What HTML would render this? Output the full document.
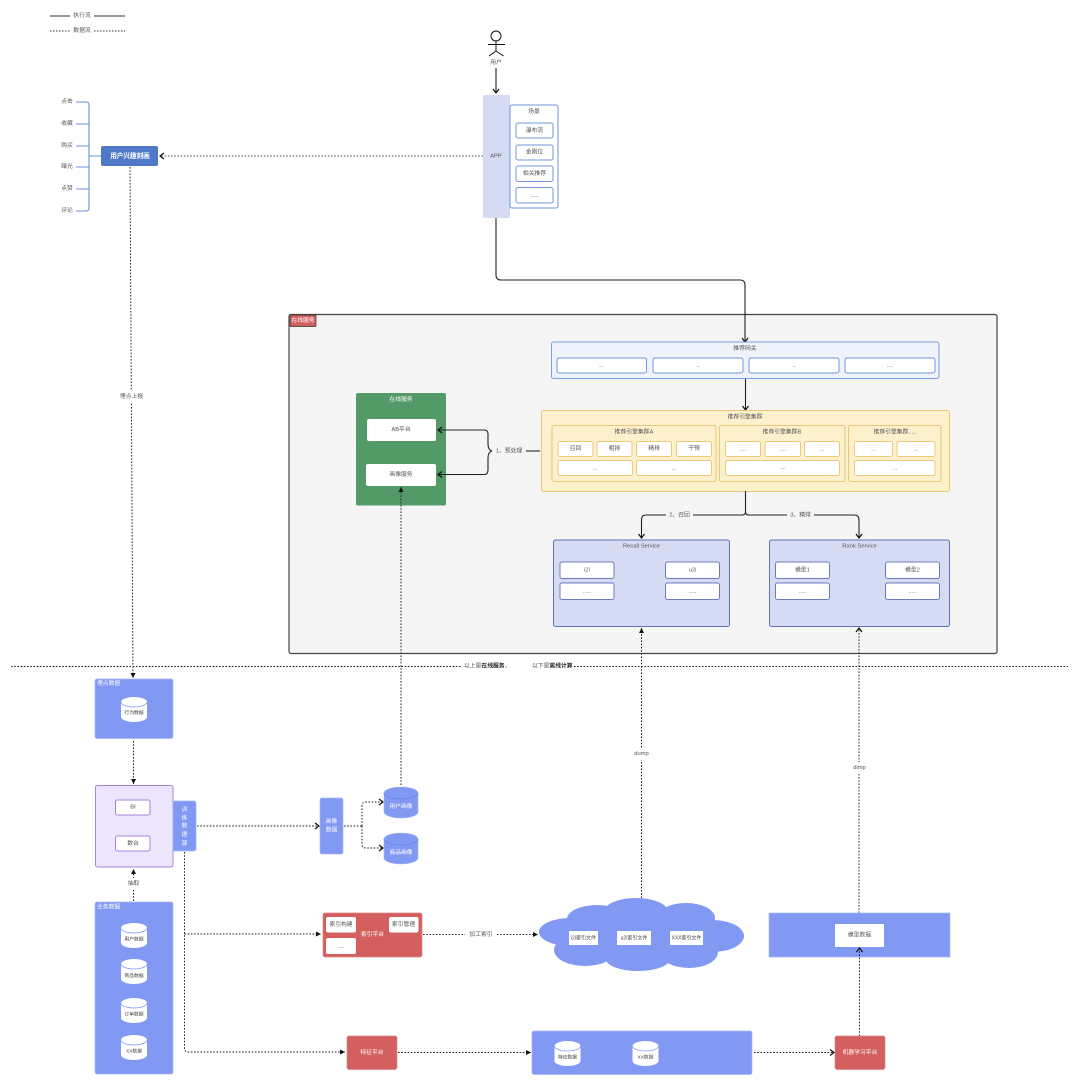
<!DOCTYPE html>
<html lang="zh"><head><meta charset="utf-8"><title>推荐系统架构</title>
<style>
html,body{margin:0;padding:0;background:#fff;width:1080px;height:1085px;overflow:hidden}
svg{display:block}
text{font-family:"Liberation Sans","Noto Sans CJK SC",sans-serif;font-size:5.8px;text-anchor:middle;dominant-baseline:central;fill:#555}
.w{fill:#fff}.s{font-size:4.8px;fill:#444}.c{font-size:5px;fill:#444}.l{text-anchor:start}
.f{fill:none;stroke:#222;stroke-width:1.1}
.d{fill:none;stroke:#222;stroke-width:1;stroke-dasharray:1.6 1.6}
.a{marker-end:url(#open)}.b{marker-end:url(#fill)}
.ib{fill:#fff;stroke:#7295dd;stroke-width:1}
.yb{fill:#fff;stroke:#ecc977;stroke-width:1}
.pb{fill:#fff;stroke:#6a7cc0;stroke-width:1}
.vb{fill:#fff;stroke:#a583db;stroke-width:1}
.blue{fill:#8199f3;stroke:#a6b7f7;stroke-width:.7}
.red{fill:#d45f5f;stroke:#e08585;stroke-width:.7}
.m{fill:none;stroke:#6a8fd8;stroke-width:1.1}
</style></head><body>
<svg xmlns="http://www.w3.org/2000/svg" width="1080" height="1085" viewBox="0 0 1080 1085">
<defs>
<marker id="open" markerUnits="userSpaceOnUse" markerWidth="8" markerHeight="8" refX="6" refY="4" orient="auto"><path d="M2,1 L6,4 L2,7" fill="none" stroke="#111" stroke-width="1.2"/></marker>
<marker id="fill" markerUnits="userSpaceOnUse" markerWidth="8" markerHeight="8" refX="6" refY="4" orient="auto"><path d="M1,1.500 L6,4 L1,6.500 Z" fill="#111"/></marker>
<g id="cy"><path d="M0,5 A13,5 0 0 1 26,5 V20 A13,5 0 0 1 0,20 Z" fill="#fff"/><path d="M0,5 A13,5 0 0 0 26,5" fill="none" stroke="#8199f3" stroke-width=".8"/></g>
<g id="cb"><path d="M0,6 A17,6 0 0 1 34,6 V25 A17,6 0 0 1 0,25 Z" fill="#8199f3" stroke="#a6b7f7" stroke-width=".6"/><path d="M0,6 A17,6 0 0 0 34,6" fill="none" stroke="#6c85e6" stroke-width=".8"/></g>
</defs>

<!-- legend -->
<path d="M50,16H70M94,16H125" stroke="#333" stroke-width="1"/>
<path d="M50,31H70M94,31H125" stroke="#333" stroke-width="1" stroke-dasharray="1.5 1.5"/>
<text x="82" y="16">执行流</text><text x="82" y="31">数据流</text>

<!-- mind map -->
<text x="67" y="102">点击</text><text x="67" y="124">收藏</text><text x="67" y="146">购买</text><text x="67" y="167">曝光</text><text x="67" y="189">点赞</text><text x="67" y="211">评论</text>
<path class="m" d="M76,102H86Q89,102 89,105V208Q89,211 86,211H76M76,124H89M76,146H89M76,167H89M76,189H89M89,156H101"/>
<rect x="101" y="146" width="57" height="20" rx="2" fill="#4f78c8"/>
<text x="130" y="156.500" class="w" style="font-size:6.6px;font-weight:bold">用户兴趣刻画</text>
<path class="d a" d="M483,156H160" style="stroke:#555"/>
<path class="d b" d="M130,167L133,678"/>
<rect x="118" y="391" width="27" height="12" fill="#fff"/>
<text x="131.500" y="397">埋点上报</text>

<!-- actor -->
<circle cx="496" cy="36" r="5" fill="none" stroke="#111" stroke-width="1"/>
<path d="M496,41V51M488,44.500H505M496,51L489,56M496,51L503.500,56" fill="none" stroke="#111" stroke-width="1"/>
<text x="496" y="63">用户</text>
<path class="f a" d="M496,68V93"/>

<!-- APP -->
<rect x="483" y="95" width="27" height="123" rx="2" fill="#d5dbf3"/>
<text x="496" y="156.500">APP</text>
<rect x="510" y="105" width="48" height="103" rx="2" fill="#fff" stroke="#6f93db" stroke-width="1"/>
<text x="534" y="112">场景</text>
<rect class="ib" x="516" y="123" width="37" height="15" rx="2"/><text x="534.500" y="131">瀑布流</text>
<rect class="ib" x="516" y="145" width="37" height="15" rx="2"/><text x="534.500" y="152.500">金刚位</text>
<rect class="ib" x="516" y="166" width="37" height="15.500" rx="2"/><text x="534.500" y="174">相关推荐</text>
<rect class="ib" x="516" y="187.500" width="37" height="15.500" rx="2"/><text x="534.500" y="196">.....</text>

<!-- online panel -->
<rect x="289" y="314.500" width="708" height="339" rx="2" fill="#f5f5f5" stroke="#444" stroke-width="1.2"/>
<rect x="290" y="315" width="26" height="11.500" rx="1" fill="#d45f5f" stroke="#333" stroke-width=".7"/>
<text x="303" y="321" class="w">在线服务</text>
<path class="f a" d="M496,218V275Q496,280 501,280H740Q745,280 745,285V342"/>

<!-- gateway -->
<rect x="551.500" y="342" width="387.500" height="36.500" rx="2" fill="#eef3fc" stroke="#7a9ce0" stroke-width="1"/>
<text x="745" y="349">推荐网关</text>
<rect class="ib" x="557" y="358" width="89.500" height="15" rx="2"/><text x="601.500" y="366">...</text>
<rect class="ib" x="653" y="358" width="90" height="15" rx="2"/><text x="698" y="366">..</text>
<rect class="ib" x="749" y="358" width="90" height="15" rx="2"/><text x="794" y="366">..</text>
<rect class="ib" x="845" y="358" width="90" height="15" rx="2"/><text x="890" y="366">....</text>
<path class="f a" d="M745.500,379V410"/>

<!-- engine -->
<rect x="541.500" y="410.500" width="408" height="81" rx="2" fill="#fdf0cd" stroke="#e8c876" stroke-width="1"/>
<text x="745" y="417.500">推荐引擎集群</text>
<rect x="552" y="425.500" width="164" height="56" rx="2" fill="#fdf0cd" stroke="#e8c876" stroke-width="1"/>
<rect x="719.500" y="425.500" width="125.500" height="56" rx="2" fill="#fdf0cd" stroke="#e8c876" stroke-width="1"/>
<rect x="848.500" y="425.500" width="92.500" height="56" rx="2" fill="#fdf0cd" stroke="#e8c876" stroke-width="1"/>
<text x="634" y="432.500">推荐引擎集群A</text><text x="782" y="432.500">推荐引擎集群B</text><text x="895" y="432.500">推荐引擎集群.....</text>
<rect class="yb" x="558" y="441.500" width="35" height="15" rx="2"/><text x="575.500" y="449">召回</text>
<rect class="yb" x="597" y="441.500" width="35" height="15" rx="2"/><text x="614.500" y="449">粗排</text>
<rect class="yb" x="636.500" y="441.500" width="35" height="15" rx="2"/><text x="654" y="449">精排</text>
<rect class="yb" x="676.500" y="441.500" width="35" height="15" rx="2"/><text x="694" y="449">干预</text>
<rect class="yb" x="558" y="460.500" width="74.500" height="15" rx="2"/><text x="595" y="468.500">...</text>
<rect class="yb" x="636.500" y="460.500" width="75" height="15" rx="2"/><text x="674" y="468.500">...</text>
<rect class="yb" x="725.500" y="441.500" width="35" height="15" rx="2"/><text x="743" y="449.500">....</text>
<rect class="yb" x="765" y="441.500" width="35.500" height="15" rx="2"/><text x="783" y="449.500">....</text>
<rect class="yb" x="804.500" y="441.500" width="35" height="15" rx="2"/><text x="822" y="449.500">...</text>
<rect class="yb" x="725.500" y="460.500" width="114" height="15" rx="2"/><text x="782.500" y="468">....</text>
<rect class="yb" x="854.500" y="441.500" width="38" height="15" rx="2"/><text x="873.500" y="449.500">...</text>
<rect class="yb" x="897" y="441.500" width="38" height="15" rx="2"/><text x="916" y="449.500">...</text>
<rect class="yb" x="854.500" y="460.500" width="80.500" height="15" rx="2"/><text x="895" y="468.500">...</text>

<!-- green -->
<rect x="356" y="393" width="90" height="112.500" rx="2" fill="#539a68"/>
<text x="401" y="400" class="w">在线服务</text>
<rect x="367" y="419" width="69" height="22" rx="2" fill="#fff"/><text x="401" y="430">AB平台</text>
<rect x="366" y="464" width="70" height="22" rx="2" fill="#fff"/><text x="401" y="475">画像服务</text>
<path class="f a" d="M488,444V434Q488,430 484,430H438"/>
<path class="f a" d="M488,458V470Q488,474.500 484,474.500H438"/>
<path class="f" d="M488,444Q488,450 492,451Q488,452 488,458"/>
<text x="509" y="451.500">1、预处理</text>
<path class="f" d="M526,451H540"/>
<path class="d b" d="M401,785V487"/>

<!-- branching -->
<path class="f" d="M745.500,491V512Q745.500,515 742,515H646Q641.500,515 641.500,520V538" marker-end="url(#open)"/>
<path class="f" d="M745.500,512Q745.500,515 749,515H854Q859,515 859,520V538" marker-end="url(#open)"/>
<rect x="666" y="510" width="27" height="10" fill="#f5f5f5"/><rect x="787" y="510" width="27" height="10" fill="#f5f5f5"/>
<text x="679.500" y="515.500">2、召回</text><text x="800.500" y="515.500">3、精排</text>

<!-- services -->
<rect x="553.500" y="540" width="176" height="86.500" rx="2" fill="#d5dbf3" stroke="#6272b8" stroke-width="1"/>
<text x="641.500" y="546.500">Recall Service</text>
<rect class="pb" x="560" y="562" width="54" height="16.500" rx="2"/><text x="587" y="570.500">i2i</text>
<rect class="pb" x="560" y="583" width="54" height="16.500" rx="2"/><text x="587" y="592">.....</text>
<rect class="pb" x="665.500" y="562" width="54" height="16.500" rx="2"/><text x="692.500" y="570.500">u2i</text>
<rect class="pb" x="665.500" y="583" width="54" height="16.500" rx="2"/><text x="692.500" y="592">.....</text>
<rect x="769.500" y="540" width="180" height="86.500" rx="2" fill="#d5dbf3" stroke="#6272b8" stroke-width="1"/>
<text x="859.500" y="546.500">Rank Service</text>
<rect class="pb" x="775.500" y="562" width="54" height="16.500" rx="2"/><text x="802.500" y="570.500">模型1</text>
<rect class="pb" x="775.500" y="583" width="54" height="16.500" rx="2"/><text x="802.500" y="592">.....</text>
<rect class="pb" x="885.500" y="562" width="54" height="16.500" rx="2"/><text x="912.500" y="570.500">模型2</text>
<rect class="pb" x="885.500" y="583" width="54" height="16.500" rx="2"/><text x="912.500" y="592">.....</text>

<!-- divider -->
<path d="M11,666.500H461M574,666.500H1068" stroke="#222" stroke-width="1" stroke-dasharray="1.6 1.6" fill="none"/>
<text x="464" y="666.500" class="l">以上是<tspan style="font-weight:bold;fill:#222">在线服务</tspan>，</text>
<text x="532" y="666.500" class="l">以下是<tspan style="font-weight:bold;fill:#222">离线计算</tspan></text>

<!-- long dumps -->
<path class="d b" d="M641.500,898V628"/>
<rect x="630" y="748" width="23" height="12" fill="#fff"/><text x="641.500" y="754">dump</text>
<path class="d a" d="M859,913V628"/>
<rect x="848" y="762" width="23" height="12" fill="#fff"/><text x="859.500" y="768">dimp</text>

<!-- left column -->
<rect class="blue" x="95" y="679" width="78" height="59.500" rx="2"/>
<text x="97" y="684" class="w l">埋点数据</text>
<use href="#cy" x="121" y="697"/><text x="134" y="713.500" class="s">行为数据</text>
<path class="d b" d="M133.500,741V784"/>
<rect x="95.500" y="785.500" width="77.500" height="81.500" rx="2" fill="#ede5fd" stroke="#a583db" stroke-width="1"/>
<rect class="vb" x="115.500" y="800" width="34.500" height="15" rx="2"/><text x="133" y="807.500">BI</text>
<rect class="vb" x="115.500" y="836" width="34.500" height="15" rx="2"/><text x="133" y="844">数台</text>
<rect class="blue" x="173" y="801" width="23" height="50" rx="2"/>
<text x="184.500" y="810" class="w">训</text><text x="184.500" y="818.500" class="w">练</text><text x="184.500" y="826.500" class="w">数</text><text x="184.500" y="835" class="w">据</text><text x="184.500" y="844" class="w">源</text>
<path class="d b" d="M133.500,901V869"/>
<rect x="124" y="878" width="20" height="12" fill="#fff"/><text x="133.500" y="884">抽取</text>
<rect class="blue" x="95" y="902" width="78" height="172" rx="2"/>
<text x="97" y="907.500" class="w l">业务数据</text>
<use href="#cy" x="121" y="923"/><text x="134" y="940" class="s">用户数据</text>
<use href="#cy" x="121" y="959"/><text x="134" y="976.500" class="s">商品数据</text>
<use href="#cy" x="121" y="998"/><text x="134" y="1015" class="s">订单数据</text>
<use href="#cy" x="121" y="1035"/><text x="134" y="1052" class="s">XX数据</text>

<!-- portrait -->
<path class="d a" d="M197,826H319"/>
<rect class="blue" x="320" y="798" width="23" height="56" rx="2"/>
<text x="331.500" y="822" class="w">画像</text><text x="331.500" y="830.500" class="w">数据</text>
<path class="d" d="M344,826H362"/>
<path class="d a" d="M362,826V806Q362,802 366,802H383"/>
<path class="d a" d="M362,826V844Q362,848 366,848H383"/>
<use href="#cb" x="384" y="787"/><text x="401" y="807" class="w">用户画像</text>
<use href="#cb" x="384" y="833"/><text x="401" y="853" class="w">商品画像</text>

<!-- training flows -->
<path class="d" d="M184.500,852V1048Q184.500,1052 188,1052H345" marker-end="url(#fill)"/>
<path class="d b" d="M184.500,934H321"/>

<!-- index -->
<rect class="red" x="323" y="913" width="99" height="44" rx="2"/>
<text x="372.500" y="935" class="w">索引平台</text>
<rect x="326" y="917" width="30" height="15.500" rx="2" fill="#fff"/><text x="341" y="925">索引构建</text>
<rect x="389" y="917" width="29.500" height="15.500" rx="2" fill="#fff"/><text x="403.500" y="925">索引管理</text>
<rect x="326" y="938" width="30" height="16" rx="2" fill="#fff"/><text x="341" y="947">....</text>
<path class="d" d="M423,934.500H465"/>
<text x="481" y="935">加工索引</text>
<path class="d b" d="M497,934.500H538"/>

<!-- cloud -->
<g fill="#8199f3">
<ellipse cx="570" cy="932" rx="31" ry="14"/><ellipse cx="597" cy="919" rx="30" ry="14"/>
<ellipse cx="636" cy="913" rx="33" ry="15"/><ellipse cx="686" cy="918" rx="29" ry="15"/>
<ellipse cx="712" cy="936" rx="32" ry="16"/><ellipse cx="689" cy="952" rx="29" ry="16"/>
<ellipse cx="638" cy="959" rx="32" ry="12"/><ellipse cx="585" cy="950" rx="31" ry="16"/>
<rect x="585" y="915" width="110" height="40"/>
</g>
<rect x="569" y="931" width="29" height="14" fill="#fff"/><text x="583.500" y="938.500" class="c">i2i索引文件</text>
<rect x="617" y="931" width="34" height="14" fill="#fff"/><text x="634" y="938.500" class="c">u2i索引文件</text>
<rect x="670" y="931" width="33" height="14" fill="#fff"/><text x="686.500" y="938.500" class="c">XXX索引文件</text>

<!-- model -->
<rect class="blue" x="769" y="913" width="181" height="44"/>
<rect x="835" y="924" width="49" height="23" fill="#fff"/><text x="859.500" y="935.500">模型数据</text>
<path class="d a" d="M859.500,1036V948"/>

<!-- bottom -->
<rect class="red" x="347" y="1036" width="50" height="33.500" rx="2"/><text x="372" y="1053" class="w">特征平台</text>
<path class="d b" d="M398,1052.500H531"/>
<rect class="blue" x="532" y="1031" width="220" height="43.500" rx="2"/>
<use href="#cy" x="554.500" y="1041"/><text x="567.500" y="1058" class="s">特征数据</text>
<use href="#cy" x="632.500" y="1041"/><text x="645.500" y="1058" class="s">XX数据</text>
<path class="d a" d="M754,1052.500H834"/>
<rect class="red" x="835" y="1036" width="50" height="33.500" rx="2"/><text x="860" y="1053" class="w">机器学习平台</text>
</svg>
</body></html>
